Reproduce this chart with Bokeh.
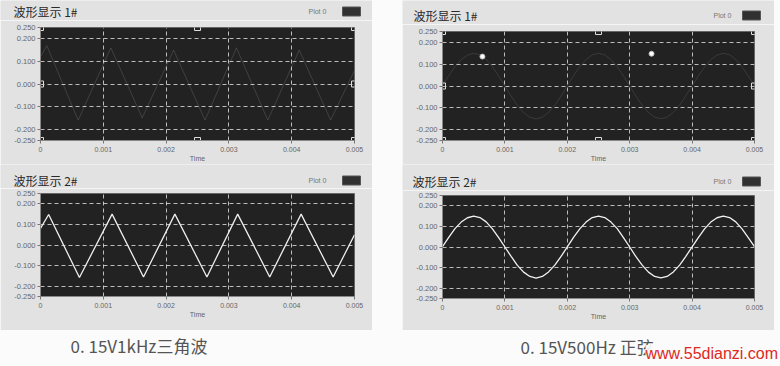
from bokeh.plotting import figure
from bokeh.layouts import column, row
from bokeh.models import FixedTicker, Label, Spacer
from bokeh.embed import file_html
from bokeh.resources import INLINE

# ---------------- data ----------------
X_TICKS = [0, 0.001, 0.002, 0.003, 0.004, 0.005]
X_TICK_LABELS = ["0", "0.001", "0.002", "0.003", "0.004", "0.005"]
Y_TICKS = [-0.25, -0.2, -0.1, 0, 0.1, 0.2, 0.25]
Y_TICK_LABELS = ["-0.250", "-0.200", "-0.100", "0.000", "0.100", "0.200", "0.250"]
X_GRID = [0.001, 0.002, 0.003, 0.004]
Y_GRID = [-0.2, -0.1, 0, 0.1, 0.2]
X_AXIS_LABEL = "Time"
LEGEND_TEXT = "Plot 0"

PANEL_TITLES = ["波形显示 1#", "波形显示 2#", "波形显示 1#", "波形显示 2#"]
CAPTIONS = ["0. 15V1kHz三角波", "0. 15V500Hz 正弦"]
WATERMARK = "www.55dianzi.com"

# 1 kHz triangle (display 2#, left) - vertices
tri_t = [0.0, 0.00013, 0.00062, 0.00114, 0.00164, 0.00214, 0.00265,
         0.00314, 0.00365, 0.00415, 0.00466, 0.005]
tri_v = [0.08, 0.148, -0.158, 0.150, -0.155, 0.150, -0.155,
         0.150, -0.155, 0.150, -0.155, 0.05]
# faint trace in display 1# (left)
tri_in_t = [0.0, 0.0001, 0.0006, 0.00112, 0.00162, 0.00212, 0.00262,
            0.00312, 0.00362, 0.00412, 0.00462, 0.005]
tri_in_v = [0.12, 0.17, -0.16, 0.16, -0.15, 0.15, -0.16,
            0.16, -0.16, 0.15, -0.16, 0.06]

# 500 Hz sine (display 2#, right)
sin_t = [0.0000, 0.0001, 0.0002, 0.0003, 0.0004, 0.0005, 0.0006, 0.0007, 0.0008, 0.0009,
         0.0010, 0.0011, 0.0012, 0.0013, 0.0014, 0.0015, 0.0016, 0.0017, 0.0018, 0.0019,
         0.0020, 0.0021, 0.0022, 0.0023, 0.0024, 0.0025, 0.0026, 0.0027, 0.0028, 0.0029,
         0.0030, 0.0031, 0.0032, 0.0033, 0.0034, 0.0035, 0.0036, 0.0037, 0.0038, 0.0039,
         0.0040, 0.0041, 0.0042, 0.0043, 0.0044, 0.0045, 0.0046, 0.0047, 0.0048, 0.0049,
         0.0050]
sin_v = [0.002, 0.047, 0.089, 0.121, 0.142, 0.150, 0.143, 0.122, 0.088, 0.046,
         0.000, -0.046, -0.089, -0.122, -0.143, -0.151, -0.143, -0.121, -0.088, -0.046,
         0.001, 0.047, 0.088, 0.121, 0.143, 0.150, 0.143, 0.121, 0.089, 0.046,
         0.000, -0.047, -0.088, -0.122, -0.143, -0.150, -0.143, -0.121, -0.088, -0.045,
         0.001, 0.046, 0.088, 0.121, 0.142, 0.150, 0.143, 0.122, 0.088, 0.046,
         0.002]
# bright spots in display 1# (right)
spot_t = [0.00064, 0.00335]
spot_v = [0.135, 0.148]

X_START, X_END = X_TICKS[0], X_TICKS[-1]
Y_START, Y_END = Y_TICKS[0], Y_TICKS[-1]

PANEL_BG = "#e2e2e2"
FRAME_BG = "#222222"
PAGE_BG = "#fbfbfb"
FONT = "Noto Sans CJK SC"
TICK_FONT = "Liberation Sans"
PANEL_W = 372


def header(title, height, title_y, title_x, legend_x, swatch_x):
    h = figure(width=PANEL_W, height=height, x_range=(0, PANEL_W), y_range=(0, height),
               output_backend="svg", toolbar_location=None,
               min_border=0, min_border_left=0, min_border_right=0,
               min_border_top=0, min_border_bottom=0)
    h.frame_align = False
    h.axis.visible = False
    h.grid.visible = False
    h.outline_line_color = None
    h.background_fill_color = PANEL_BG
    h.border_fill_color = PANEL_BG
    h.add_layout(Label(x=title_x, y=title_y, text=title, text_font=FONT,
                       text_font_size="12px", text_color="#2a2a2a",
                       text_baseline="middle", text_align="left"))
    h.add_layout(Label(x=legend_x, y=title_y, text=LEGEND_TEXT, text_font=TICK_FONT,
                       text_font_size="7px", text_color="#777777",
                       text_baseline="middle", text_align="left"))
    h.quad(left=[swatch_x], right=[swatch_x + 18], bottom=[title_y - 4.5],
           top=[title_y + 4.5], fill_color="#303030", line_color="#555555")
    return h


def panel(height, borders):
    left, right, top, bottom = borders
    p = figure(width=PANEL_W, height=height,
               x_range=(X_START, X_END), y_range=(Y_START, Y_END),
               output_backend="svg", toolbar_location=None,
               min_border_left=left, min_border_right=right,
               min_border_top=top, min_border_bottom=bottom)
    p.frame_align = False
    p.background_fill_color = FRAME_BG
    p.border_fill_color = PANEL_BG
    p.outline_line_color = "#666666"

    p.xaxis.ticker = FixedTicker(ticks=X_TICKS)
    p.xaxis.major_label_overrides = dict(zip(X_TICKS, X_TICK_LABELS))
    p.yaxis.ticker = FixedTicker(ticks=Y_TICKS)
    p.yaxis.major_label_overrides = dict(zip(Y_TICKS, Y_TICK_LABELS))
    p.xaxis.axis_label = X_AXIS_LABEL
    for ax in (p.xaxis, p.yaxis):
        ax.axis_line_color = "#888888"
        ax.major_tick_line_color = "#777777"
        ax.major_tick_out = 3
        ax.major_tick_in = 0
        ax.minor_tick_line_color = None
        ax.major_label_text_font = TICK_FONT
        ax.major_label_text_font_size = "7.5px"
        ax.major_label_text_color = "#666666"
        ax.major_label_standoff = 2
    p.xaxis.major_tick_out = 3
    p.xaxis.major_label_standoff = 3
    p.xaxis.major_label_text_font_size = "7px"
    p.xaxis.axis_label_text_font = TICK_FONT
    p.xaxis.axis_label_text_font_size = "7px"
    p.xaxis.axis_label_text_font_style = "normal"
    p.xaxis.axis_label_text_color = "#666666"
    p.xaxis.axis_label_standoff = 0

    p.xgrid.ticker = FixedTicker(ticks=X_GRID)
    p.ygrid.ticker = FixedTicker(ticks=Y_GRID)
    for g in (p.xgrid, p.ygrid):
        g.grid_line_color = "#f0f0f0"
        g.grid_line_alpha = 0.75
        g.grid_line_dash = "4 3"
        g.grid_line_width = 1
    return p


def handles(p):
    mid = (X_START + X_END) / 2
    hx = [X_START, mid, X_END, X_START, X_END, X_START, mid, X_END]
    hy = [Y_END, Y_END, Y_END, 0, 0, Y_START, Y_START, Y_START]
    p.scatter(hx, hy, marker="square", size=6, fill_color=None,
              line_color="#dddddd", line_width=1)


# top-left: display 1# (triangle input, faint)
h1 = header(PANEL_TITLES[0], 20, 9, 13, 308, 342)
p1 = panel(144, (40, 18, 7, 22))
p1.line(tri_in_t, tri_in_v, line_color="#cccccc", line_alpha=0.18, line_width=1)
handles(p1)

# bottom-left: display 2# (triangle)
h3 = header(PANEL_TITLES[1], 24, 8, 13, 308, 342)
p3 = panel(142, (40, 18, 5, 34))
p3.line(tri_t, tri_v, line_color="#eeeeee", line_width=1.3)

# top-right: display 1# (sine input, faint)
h2 = header(PANEL_TITLES[2], 24, 9, 11, 311, 340)
p2 = panel(140, (40, 20, 7, 20))
p2.line(sin_t, sin_v, line_color="#cccccc", line_alpha=0.14, line_width=1)
p2.scatter(spot_t, spot_v, size=5, fill_color="#ffffff", line_color="#bbbbbb")
handles(p2)

# bottom-right: display 2# (sine)
h4 = header(PANEL_TITLES[3], 26, 9, 10, 311, 340)
p4 = panel(140, (40, 20, 5, 32))
p4.line(sin_t, sin_v, line_color="#f2f2f2", line_width=1.3)

# caption strip
cap = figure(width=780, height=36, x_range=(0, 780), y_range=(0, 36),
             output_backend="svg", toolbar_location=None,
             min_border=0, min_border_left=0, min_border_right=0,
             min_border_top=0, min_border_bottom=0)
cap.frame_align = False
cap.axis.visible = False
cap.grid.visible = False
cap.outline_line_color = None
cap.background_fill_color = PAGE_BG
cap.border_fill_color = PAGE_BG
cap.add_layout(Label(x=70, y=21, text=CAPTIONS[0], text_font=FONT,
                     text_font_size="17px", text_color="#555555",
                     text_baseline="middle", text_align="left"))
cap.add_layout(Label(x=520, y=20, text=CAPTIONS[1], text_font=FONT,
                     text_font_size="17px", text_color="#555555",
                     text_baseline="middle", text_align="left"))
cap.add_layout(Label(x=645, y=13, text=WATERMARK, text_font="Liberation Sans",
                     text_font_size="16px", text_color="#e0281e",
                     text_baseline="middle", text_align="left",
                     background_fill_color=PAGE_BG, background_fill_alpha=0.9))

gap = Spacer(width=30, height=330, styles={"background-color": PAGE_BG})
edge = Spacer(width=6, height=330, styles={"background-color": PAGE_BG})

layout = column(row(column(h1, p1, h3, p3), gap, column(h2, p2, h4, p4), edge), cap)
layout.styles = {"background-color": PAGE_BG}

open("out.html", "w").write(file_html(layout, INLINE))
